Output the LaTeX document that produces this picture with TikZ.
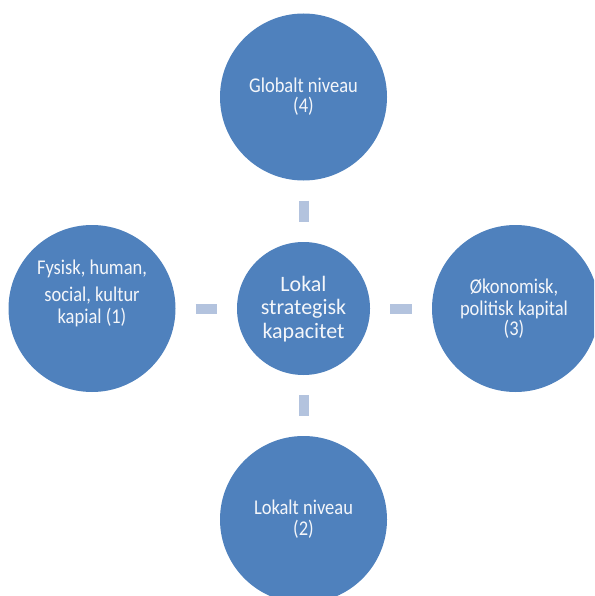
\documentclass[tikz,border=0pt]{standalone}
\usepackage{fontspec}
\setmainfont{Carlito}
\newfontfamily\outerfont[FakeStretch=0.88]{Carlito}
\definecolor{circfill}{HTML}{4F81BD}
\definecolor{connfill}{HTML}{B3C3DE}
\definecolor{txtcol}{HTML}{F4F6FA}
\begin{document}
\begin{tikzpicture}[x=1pt,y=-1pt,
  bigcirc/.style={circle,fill=circfill,minimum size=167pt,inner sep=0pt},
  midcirc/.style={circle,fill=circfill,minimum size=133pt,inner sep=0pt},
  conn/.style={draw=connfill,line width=10pt,line cap=butt,shorten <=20pt,shorten >=20pt},
  otxt/.style={anchor=base,text=txtcol,inner sep=0pt,font=\outerfont\fontsize{21}{24}\selectfont},
  ctxt/.style={anchor=base,text=txtcol,inner sep=0pt,font=\fontsize{22}{26}\selectfont}]
\useasboundingbox (0,0) rectangle (594,596);
\clip (0,0) rectangle (594,596);
\node[bigcirc] (top) at (303.5,97) {};
\node[bigcirc] (left) at (92,308.5) {};
\node[bigcirc] (right) at (515.5,308.5) {};
\node[bigcirc] (bottom) at (303.5,519.5) {};
\node[midcirc] (mid) at (303.5,308.5) {};
\draw[conn] (top) -- (mid);
\draw[conn] (left) -- (mid);
\draw[conn] (right) -- (mid);
\draw[conn] (bottom) -- (mid);
% top
\node[otxt] (t1) at (303.5,92.3) {Globalt niveau};
\node[otxt] (t2) at (303.5,113) {(4)};
% left
\node[otxt] (l1) at (92,274.3) {Fysisk, human,};
\node[otxt] (l2) at (92,301.7) {social, kultur};
\node[otxt] (l3) at (92,323.3) {kapial (1)};
% right
\node[otxt] (r1) at (514,293.3) {Økonomisk,};
\node[otxt] (r2) at (514,315.5) {politisk kapital};
\node[otxt] (r3) at (514,335) {(3)};
% bottom
\node[otxt] (b1) at (303.5,514) {Lokalt niveau};
\node[otxt] (b2) at (303.5,535) {(2)};
% centre
\node[ctxt] (c1) at (303.5,291) {Lokal};
\node[ctxt] (c2) at (303.5,314.5) {strategisk};
\node[ctxt] (c3) at (303.5,338) {kapacitet};
\end{tikzpicture}
\end{document}
